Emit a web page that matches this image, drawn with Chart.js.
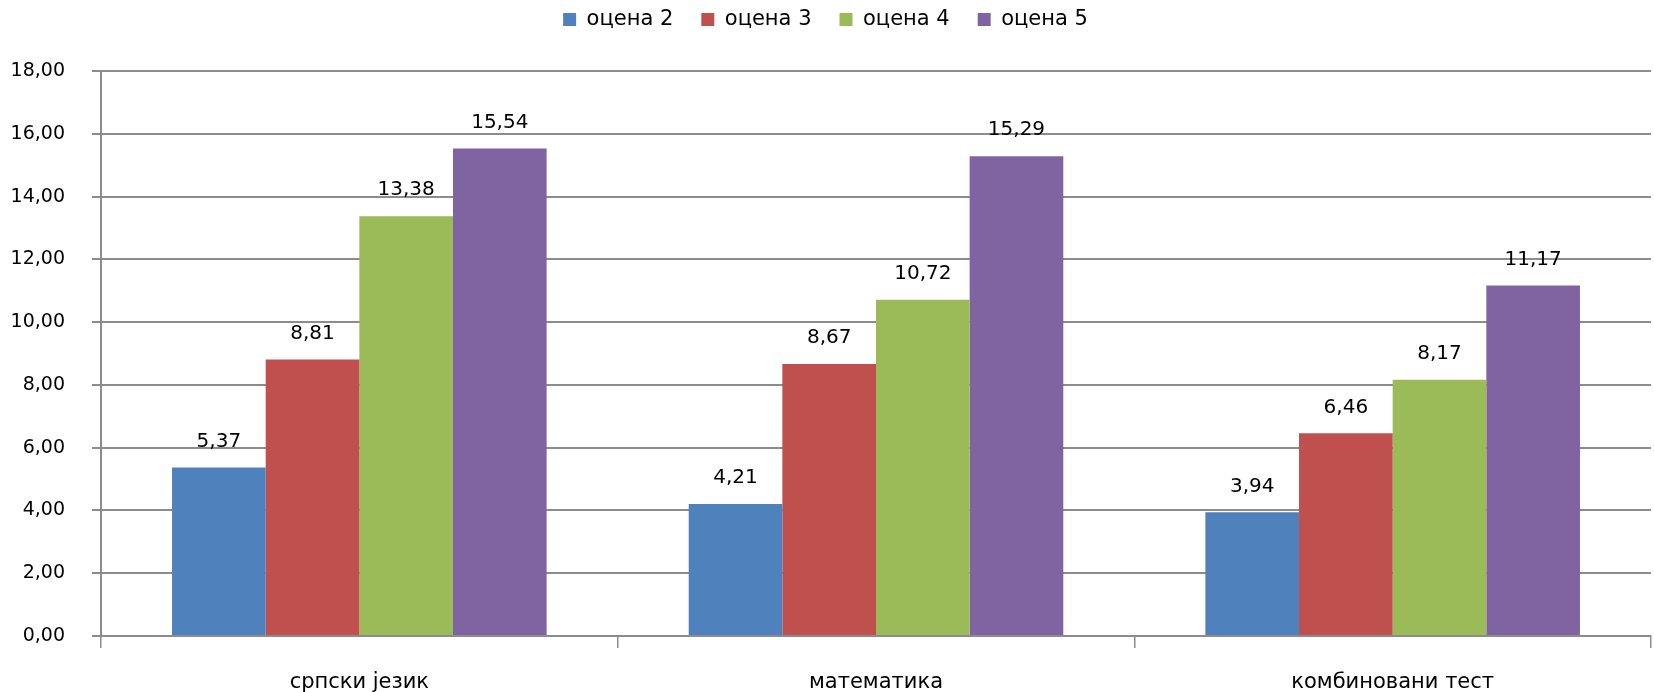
<!DOCTYPE html>
<html>
<head>
<meta charset="utf-8">
<script src="https://cdn.jsdelivr.net/npm/chart.js@4"></script>
<style>
  html, body { margin: 0; padding: 0; background: #fff; }
  #wrap { width: 1654px; height: 692px; }
</style>
</head>
<body>
<div id="wrap"><canvas id="chart"></canvas></div>
<script>
const categories = ['српски језик', 'математика', 'комбиновани тест'];
const seriesNames = ['оцена 2', 'оцена 3', 'оцена 4', 'оцена 5'];
const grade2 = [5.37, 4.21, 3.94];
const grade3 = [8.81, 8.67, 6.46];
const grade4 = [13.38, 10.72, 8.17];
const grade5 = [15.54, 15.29, 11.17];
const colors = ['#4F81BD', '#C0504D', '#9BBB59', '#8064A2'];

const fontFamily = '"DejaVu Sans", Verdana, sans-serif';
const fmt = v => v.toFixed(2).replace('.', ',');

// value labels above each bar
const valueLabels = {
  id: 'valueLabels',
  afterDatasetsDraw(chart) {
    const ctx = chart.ctx;
    ctx.save();
    ctx.font = '20px ' + fontFamily;
    ctx.fillStyle = '#000';
    ctx.textAlign = 'center';
    ctx.textBaseline = 'middle';
    chart.data.datasets.forEach((ds, i) => {
      chart.getDatasetMeta(i).data.forEach((bar, j) => {
        ctx.fillText(fmt(ds.data[j]), bar.x, bar.y - 26);
      });
    });
    ctx.restore();
  }
};

const ctx = document.getElementById('chart').getContext('2d');
new Chart(ctx, {
  type: 'bar',
  data: {
    labels: categories,
    datasets: [grade2, grade3, grade4, grade5].map((d, i) => ({
      label: seriesNames[i],
      data: d,
      backgroundColor: colors[i],
      borderWidth: 0,
      categoryPercentage: 0.725,
      barPercentage: 1.0,
    })),
  },
  options: {
    responsive: true,
    maintainAspectRatio: false,
    animation: false,
    layout: { padding: { top: -19, right: 3, left: 0, bottom: 0 } },
    plugins: {
      legend: {
        position: 'top',
        labels: {
          boxWidth: 13,
          boxHeight: 13,
          padding: 28,
          color: '#000',
          font: { family: fontFamily, size: 21 },
        },
      },
      // spacer between legend and plot
      title: {
        display: true,
        text: ' ',
        position: 'top',
        weight: 500,
        font: { size: 1 },
        padding: { top: 0, bottom: 30 },
      },
      tooltip: { enabled: false },
    },
    scales: {
      x: {
        afterFit(scale) { scale.height = 56; },
        grid: {
          offset: true,
          drawOnChartArea: false,
          drawTicks: true,
          tickLength: 12,
          color: '#8c8c8c',
          lineWidth: 1.5,
        },
        border: { color: '#8c8c8c', width: 2 },
        ticks: {
          color: '#000',
          padding: 22,
          font: { family: fontFamily, size: 21 },
        },
      },
      y: {
        min: 0,
        max: 18,
        afterFit(scale) { scale.width = 101; },
        grid: {
          color: '#8c8c8c',
          lineWidth: 2,
          tickLength: 9,
        },
        border: { color: '#8c8c8c', width: 2 },
        ticks: {
          stepSize: 2,
          color: '#000',
          padding: 27,
          font: { family: fontFamily, size: 19 },
          callback: v => fmt(v),
        },
      },
    },
  },
  plugins: [valueLabels],
});
</script>
</body>
</html>
